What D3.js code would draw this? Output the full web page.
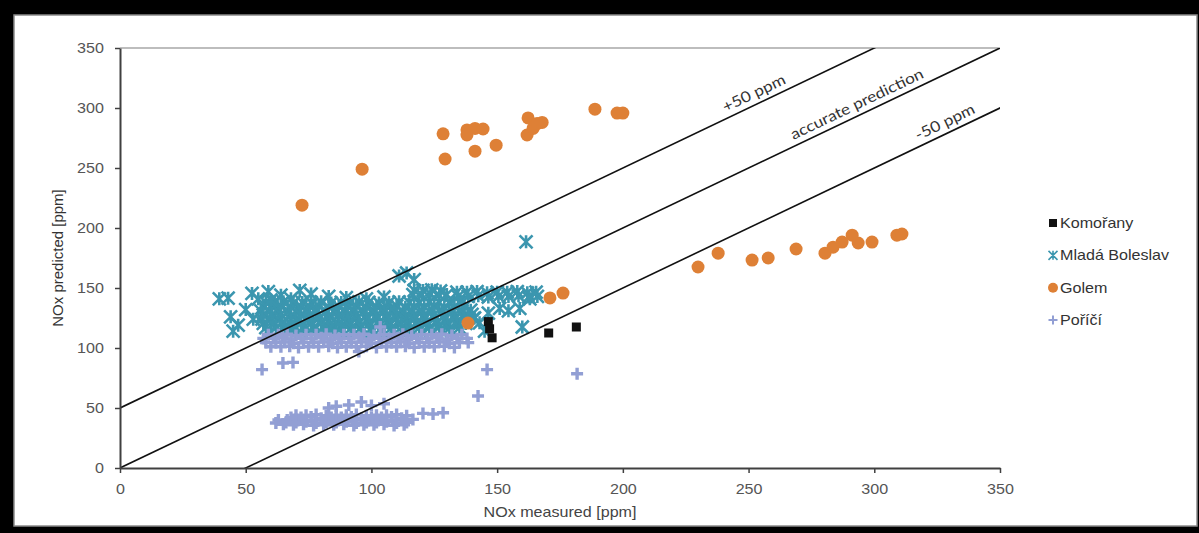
<!DOCTYPE html>
<html>
<head>
<meta charset="utf-8">
<script src="https://cdn.jsdelivr.net/npm/d3@7"></script>
<style>
  html, body { margin: 0; padding: 0; background: #000; }
  svg { display: block; }
</style>
</head>
<body>
<svg id="chart" width="1199" height="533"></svg>
<script>
// ---- data (NOx measured vs. predicted, ppm) ----
const xTicks = [0, 50, 100, 150, 200, 250, 300, 350];
const yTicks = [0, 50, 100, 150, 200, 250, 300, 350];

const seriesNames = ["Komořany", "Mladá Boleslav", "Golem", "Poříčí"];

const komorany = [[146.5,122],[147,116],[148,108.5],[170.5,112.5],[181.5,117.5]];

const golem = [
  [72.4,219],[96.3,249],[128.5,278.5],[129.3,257.5],[138,281.7],[141.2,283],[144.4,282.5],
  [138,277.5],[141.2,264],[149.6,269],[162.3,291.7],[167.9,288],[161.9,277.5],[164.3,283],
  [165.9,287],[188.9,299],[197.7,295.8],[200,295.8],
  [138.4,120.8],[171,141.7],[176.2,145.8],
  [229.9,167.5],[237.9,179],[251.4,173.3],[257.8,175],[268.9,182.5],[280.4,179],[283.6,184],
  [287.2,188.3],[291.2,194],[293.6,187.5],[299.1,188.3],[309,194],[311,195]
];

const boleslavScattered = [
  [39.5,141],[43,141.5],[52.5,145.5],[55,141],[59,147],[64,144],[71.5,148],[76,145],[83,143],
  [111,160],[114,162.5],[117,157],[161.5,188.5],[44,126],[47,119],[50,132],[53,124],[45,114],
  [160,117.5],[146.5,129],[151,133],[154.5,131],[159,133],[143,121],[145,114],[141,125],[163,141],
  [90,142],[98,141],[105,142.5],[60,140],[68,141]
];
const boleslavBody = [
  [58,138],[61.5,138],[65,138.5],[69,137.5],[72.5,138],[76,138],[80,138.5],[84,137.5],[88,138],[91.5,138],[95,138.5],[99,138],[103,137.5],[107,138],[111,138.5],[115,138],[119,137.5],[123,138],[127,138],[131,137.5],[135,138],
  [57,134.5],[60.5,134.5],[64,135],[68,134],[72,134.5],[75.5,134.5],[79,135],[83,134],[87,134.5],[90.5,134.5],[94,135],[98,134],[102,134.5],[106,134.5],[110,135],[113.5,134],[117,134.5],[121,134.5],[125,135],[129,134],[133,134.5],[137,134.5],
  [56,131],[59.5,131],[63,131.5],[67,130.5],[71,131],[74.5,131],[78,131.5],[82,130.5],[86,131],[89.5,131],[93,131.5],[97,130.5],[101,131],[105,131],[109,131.5],[112.5,130.5],[116,131],[120,131],[124,131.5],[128,130.5],[132,131],[136,131],[139.5,131.5],
  [57,127.5],[60.5,127.5],[64,128],[68,127],[72,127.5],[75.5,127.5],[79,128],[83,127],[87,127.5],[90.5,127.5],[94,128],[98,127],[102,127.5],[106,127.5],[110,128],[113.5,127],[117,127.5],[121,127.5],[125,128],[129,127],[133,127.5],[137,127.5],[140,128],
  [56.5,124],[60,124],[64,124.5],[68,123.5],[71.5,124],[75,124],[79,124.5],[83,123.5],[87,124],[90.5,124],[94,124.5],[98,123.5],[102,124],[106,124],[110,124.5],[113.5,123.5],[117,124],[121,124],[125,124.5],[129,123.5],[133,124],[137,124],[140.5,124.5],
  [57,120.5],[61,120.5],[64.5,121],[68,120],[72,120.5],[76,120.5],[80,121],[83.5,120],[87,120.5],[91,120.5],[95,121],[99,120],[103,120.5],[107,120.5],[110.5,121],[114,120],[118,120.5],[122,120.5],[126,121],[130,120],[134,120.5],[137.5,120.5],
  [58,117],[62,117],[65.5,117.5],[69,116.5],[73,117],[77,117],[81,117.5],[84.5,116.5],[88,117],[92,117],[96,117.5],[100,116.5],[104,117],[108,117],[112,117.5],[115.5,116.5],[119,117],[123,117],[127,117.5],[131,116.5],[135,117],
  [60,113.5],[64,113.5],[68,114],[72,113],[76,113.5],[80,113.5],[84,114],[88,113],[92,113.5],[96,113.5],[100,114],[104,113],[108,113.5],[112,113.5],[116,114],[120,113],[124,113.5],[128,113.5],[132,114]
];
const boleslavStrip = [
  [117,148],[120.5,148],[124,148.5],[127.5,147.5],
  [116.5,144.5],[120,144.5],[123.5,145],[127,144],[130,144.5],
  [134,146.5],[138,146.5],[142,147],[146,146],[150,146.5],[154,146.5],[158,147],[162,146],[165.5,146.5],
  [134.5,143],[138.5,143],[142.5,143.5],[146.5,142.5],[150.5,143],[154.5,143],[158.5,143.5],[162.5,142.5],[166,143]
];

const poriciScattered = [
  [56.5,82],[64.8,87.5],[68.8,88],[146,82],[142.4,60],[181.8,78.5],[103.5,117.5],[95,97],
  [120.5,45.5],[124.5,45],[128.5,46],[83,50],[86,51.5],[91,52.5],[96,55],[100,52],[105,53.5]
];
const poriciUpper = [
  [59,111],[63,111],[66.5,111.5],[70,110.5],[74,111],[78,111],[82,111.5],[85.5,110.5],[89,111],[93,111],[97,111.5],[101,110.5],[105,111],[109,111],[112.5,111.5],[116,110.5],[120,111],[124,111],[128,111.5],[132,110.5],[136,111],
  [57,108],[61,108],[64.5,108.5],[68,107.5],[72,108],[76,108],[80,108.5],[83.5,107.5],[87,108],[91,108],[95,108.5],[99,107.5],[103,108],[107,108],[110.5,108.5],[114,107.5],[118,108],[122,108],[126,108.5],[130,107.5],[134,108],[138,108],
  [58,104.5],[62,104.5],[65.5,105],[69,104],[73,104.5],[77,104.5],[81,105],[84.5,104],[88,104.5],[92,104.5],[96,105],[100,104],[104,104.5],[108,104.5],[111.5,105],[115,104],[119,104.5],[123,104.5],[127,105],[131,104],[135,104.5],[138.5,104.5],
  [60,101],[64,101],[67.5,101.5],[71,100.5],[75,101],[79,101],[83,101.5],[86.5,100.5],[90,101],[94,101],[98,101.5],[102,100.5],[106,101],[110,101],[113.5,101.5],[117,100.5],[121,101],[125,101],[129,101.5],[133,100.5]
];
const poriciLower = [
  [70,44],[74,44],[78,44.5],[82,43.5],[86,44],[90,44],[94,44.5],[98,43.5],[102,44],[106,44],[110,44.5],[114,43.5],
  [63,40],[66.5,40],[70,40.5],[74,39.5],[78,40],[82,40],[86,40.5],[90,39.5],[94,40],[98,40],[102,40.5],[106,39.5],[110,40],[113.5,40],[116.5,40.5],
  [62,37.5],[65,36.5],[69,36],[73,36.5],[77,35.5],[81,36],[85,36],[89,36.5],[93,35.5],[97,36],[101,36],[105,36.5],[109,35.5],[113,36],
  [68,42],[72,42],[76,42.5],[80,41.5],[84,42],[88,42],[92,42.5],[96,41.5],[100,42],[104,42],[108,42.5],[112,41.5],
  [66,38],[70,38],[74,38.5],[78,37.5],[82,38],[86,38],[90,38.5],[94,37.5],[98,38],[102,38],[106,38.5],[110,37.5],[114,38]
];

// ---- layout ----
const svg = d3.select("#chart");
const plot = { left: 120, right: 1000, top: 48, bottom: 468 };
const x = d3.scaleLinear().domain([0, 350]).range([plot.left, plot.right]);
const y = d3.scaleLinear().domain([0, 350]).range([plot.bottom, plot.top]);
const stretch = 1.15;

// frame
svg.append("rect").attr("width", 1199).attr("height", 533).attr("fill", "#000");
svg.append("rect").attr("x", 14).attr("y", 15).attr("width", 1183).attr("height", 511)
  .attr("fill", "#fff").attr("stroke", "#8a8a8a").attr("stroke-width", 1.5);

// plot top border
svg.append("line").attr("x1", x(0)).attr("x2", x(350)).attr("y1", y(350)).attr("y2", y(350))
  .attr("stroke", "#bdbdbd").attr("stroke-width", 2);

svg.append("clipPath").attr("id", "plotClip").append("rect")
  .attr("x", plot.left).attr("y", plot.top).attr("width", plot.right - plot.left).attr("height", plot.bottom - plot.top);

// marker shapes
const star = s => `M${-s/2},${-s/2}L${s/2},${s/2}M${-s/2},${s/2}L${s/2},${-s/2}M0,${-s/2}L0,${s/2}`;
const plus = s => `M${-s/2},0L${s/2},0M0,${-s/2}L0,${s/2}`;

const colors = { kom: "#111111", mb: "#3b96af", gol: "#de8036", por: "#929fd4" };

const marks = svg.append("g").attr("clip-path", "url(#plotClip)");

const mbAll = boleslavBody.concat(boleslavStrip, boleslavScattered);
marks.append("g").selectAll("path").data(mbAll).join("path")
  .attr("transform", d => `translate(${x(d[0])},${y(d[1])})`)
  .attr("d", star(13)).attr("fill", "none").attr("stroke", colors.mb).attr("stroke-width", 2.6);

const porAll = poriciUpper.concat(poriciLower, poriciScattered);
marks.append("g").selectAll("path").data(porAll).join("path")
  .attr("transform", d => `translate(${x(d[0])},${y(d[1])})`)
  .attr("d", plus(12)).attr("fill", "none").attr("stroke", colors.por).attr("stroke-width", 3.4);

marks.append("g").selectAll("circle").data(golem).join("circle")
  .attr("cx", d => x(d[0])).attr("cy", d => y(d[1])).attr("r", 6.5).attr("fill", colors.gol);

marks.append("g").selectAll("rect").data(komorany).join("rect")
  .attr("x", d => x(d[0]) - 4.5).attr("y", d => y(d[1]) - 4.5).attr("width", 9).attr("height", 9)
  .attr("fill", colors.kom);

// reference lines: accurate prediction and ±50 ppm
const refLines = [
  { offset: 50, label: "+50 ppm", at: 254 },
  { offset: 0, label: "accurate prediction", at: 295 },
  { offset: -50, label: "-50 ppm", at: 330 }
];
const lineGen = d3.line().x(d => x(d[0])).y(d => y(d[1]));
const refG = svg.append("g").attr("clip-path", "url(#plotClip)");
refG.selectAll("path").data(refLines).join("path")
  .attr("d", d => lineGen([[-60, -60 + d.offset], [420, 420 + d.offset]]))
  .attr("fill", "none").attr("stroke", "#111").attr("stroke-width", 1.6);

const angle = -Math.atan2(y(0) - y(1), x(1) - x(0)) * 180 / Math.PI;
svg.append("g").selectAll("text").data(refLines).join("text")
  .attr("transform", d => `translate(${x(d.at)},${y(d.at + d.offset)}) rotate(${angle}) scale(${stretch},1)`)
  .attr("dy", -6).attr("text-anchor", "middle")
  .attr("font-family", "Lato, 'Open Sans', sans-serif").attr("font-size", 15).attr("fill", "#333")
  .text(d => d.label);

// axes
const axisFont = "'Liberation Sans', Arial, sans-serif";
const gx = svg.append("g").attr("transform", `translate(0,${plot.bottom})`)
  .call(d3.axisBottom(x).tickValues(xTicks).tickSize(5).tickSizeOuter(0).tickFormat(d3.format("d")));
const gy = svg.append("g").attr("transform", `translate(${plot.left},0)`)
  .call(d3.axisLeft(y).tickValues(yTicks).tickSize(5).tickSizeOuter(0).tickFormat(d3.format("d")));
[gx, gy].forEach(g => {
  g.select(".domain").attr("stroke", "#404040").attr("stroke-width", 2);
  g.selectAll(".tick line").attr("stroke", "#404040").attr("stroke-width", 1.5);
  g.selectAll(".tick text").attr("font-family", axisFont).attr("font-size", 14).attr("fill", "#555");
});
gx.selectAll(".tick text").attr("y", 16).attr("x", 0).attr("dy", "0.71em")
  .attr("transform", `scale(${stretch},1)`);
gy.selectAll(".tick text").attr("x", -14).attr("transform", `scale(${stretch},1)`);

// axis titles
svg.append("text").attr("transform", `translate(${(plot.left + plot.right) / 2},517) scale(${stretch},1)`)
  .attr("text-anchor", "middle").attr("font-family", axisFont).attr("font-size", 14).attr("fill", "#444")
  .text("NOx measured [ppm]");
svg.append("text").attr("transform", `translate(63,${(plot.top + plot.bottom) / 2}) rotate(-90)`)
  .attr("text-anchor", "middle").attr("font-family", axisFont).attr("font-size", 15).attr("fill", "#333")
  .text("NOx predicted [ppm]");

// legend
const legendY = d3.scalePoint().domain(seriesNames).range([223, 320]);
const legend = svg.append("g");
const legendItems = legend.selectAll("g").data(seriesNames).join("g")
  .attr("transform", d => `translate(1053,${legendY(d)})`);
legendItems.each(function(d, i) {
  const g = d3.select(this);
  if (i === 0) g.append("rect").attr("x", -4).attr("y", -4).attr("width", 8).attr("height", 8).attr("fill", colors.kom);
  if (i === 1) g.append("path").attr("d", star(9)).attr("fill", "none").attr("stroke", colors.mb).attr("stroke-width", 1.6);
  if (i === 2) g.append("circle").attr("r", 5).attr("fill", colors.gol);
  if (i === 3) g.append("path").attr("d", plus(9)).attr("fill", "none").attr("stroke", colors.por).attr("stroke-width", 2);
  g.append("text").attr("transform", `translate(7,0) scale(${stretch},1)`).attr("dy", "0.35em")
    .attr("font-family", axisFont).attr("font-size", 14).attr("fill", "#333").text(d);
});
</script>
</body>
</html>
